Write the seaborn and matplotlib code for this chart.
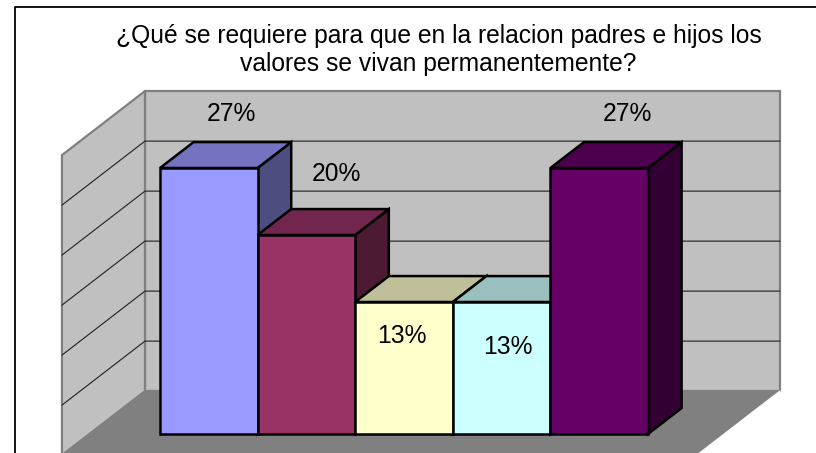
import matplotlib
matplotlib.use("Agg")
import matplotlib.pyplot as plt
from matplotlib.colors import to_rgb
from matplotlib.lines import Line2D
from matplotlib.patches import Polygon
import pandas as pd
import seaborn as sns

# data
categories = ["Opción 1", "Opción 2", "Opción 3", "Opción 4", "Opción 5"]
values = [26.6, 19.9, 13.2, 13.2, 26.6]
bar_colors = ["#9999FF", "#993366", "#FFFFCC", "#CCFFFF", "#660066"]
value_ticks = [0, 5, 10, 15, 20, 25, 30]
title_lines = "¿Qué se requiere para que en la relacion padres e hijos los\nvalores se vivan permanentemente?"

# layout (pixels of the 816x453 canvas)
W, H = 816, 453
CAT_PX, VAL_PX = 97.6, 10.0
CAT0_PX, VAL0_PX = 208.8, 434.0
DEPTH_X_PX, DEPTH_Y_PX = 83.0, 64.0
BAR_PLANE, BAR_DEPTH = 0.33, 0.405
WALL_L, WALL_R = -1.224, 5.282
LABEL_DX_PX = [23, 30, -2, 6, 28]
LABEL_DY_PX = [54, 61, -34, -45, 54]
EDGE_LW = 1.8

sns.set_theme(style="white", rc={"font.family": ["Liberation Sans", "DejaVu Sans"]})
fig = plt.figure(figsize=(W / 100, H / 100), dpi=100, facecolor="white")
ax = fig.add_axes([0, 0, 1, 1])

df = pd.DataFrame({"cat": categories, "val": values})
sns.barplot(data=df, x="cat", y="val", hue="cat", palette=bar_colors, width=1.0,
            saturation=1, legend=False, edgecolor="black", linewidth=EDGE_LW,
            zorder=3, ax=ax)
ax.set_xlim(-CAT0_PX / CAT_PX, (W - CAT0_PX) / CAT_PX)
ax.set_ylim((VAL0_PX - H) / VAL_PX, VAL0_PX / VAL_PX)
ax.axis("off")


def proj(cat, val, z):
    """Oblique projection: z = 0 front of floor, z = 1 back wall."""
    return (cat + (z - BAR_PLANE) * DEPTH_X_PX / CAT_PX,
            val + (z - BAR_PLANE) * DEPTH_Y_PX / VAL_PX)


top = value_ticks[-1]
floor = [proj(WALL_L, 0, 0), proj(WALL_L, 0, 1), proj(WALL_R, 0, 1), proj(WALL_R, 0, 0)]
back = [proj(WALL_L, 0, 1), proj(WALL_L, top, 1), proj(WALL_R, top, 1), proj(WALL_R, 0, 1)]
left = [proj(WALL_L, 0, 0), proj(WALL_L, top, 0), proj(WALL_L, top, 1), proj(WALL_L, 0, 1)]
ax.add_patch(Polygon(floor, facecolor="#808080", edgecolor="none", zorder=1))
ax.add_patch(Polygon(back, facecolor="#C0C0C0", edgecolor="#808080", lw=1.6, zorder=1.2))
ax.add_patch(Polygon(left, facecolor="#C0C0C0", edgecolor="#808080", lw=1.6, zorder=1.2))
edge = [proj(WALL_R, 0, 1), proj(WALL_R, 0, 0)]
ax.plot(*zip(*edge), color="white", lw=1.0, zorder=1.3)

for v in value_ticks[1:-1]:
    ax.plot(*zip(proj(WALL_L, v, 0), proj(WALL_L, v, 1), proj(WALL_R, v, 1)),
            color="#202020", lw=0.8, zorder=1.5)

# 3D faces of each bar, built from the bars seaborn drew
z0, z1 = BAR_PLANE, BAR_PLANE + BAR_DEPTH
for i, (bar, color) in enumerate(zip(ax.patches, bar_colors)):
    c0 = bar.get_x()
    c1 = c0 + bar.get_width()
    h = bar.get_height()
    rgb = to_rgb(color)
    bar.set_zorder(2 + i + 0.5)
    bar.set_joinstyle("miter")
    ax.add_patch(Polygon([proj(c1, 0, z0), proj(c1, h, z0), proj(c1, h, z1), proj(c1, 0, z1)],
                         facecolor=[x * 0.5 for x in rgb], edgecolor="black", lw=EDGE_LW, zorder=2 + i))
    ax.add_patch(Polygon([proj(c0, h, z0), proj(c0, h, z1), proj(c1, h, z1), proj(c1, h, z0)],
                         facecolor=[x * 0.75 for x in rgb], edgecolor="black", lw=EDGE_LW, zorder=2 + i + 0.2))

for i, (bar, v) in enumerate(zip(ax.patches, values)):
    ax.text(bar.get_x() + bar.get_width() / 2 + LABEL_DX_PX[i] / CAT_PX,
            v + LABEL_DY_PX[i] / VAL_PX, f"{round(v)}%",
            ha="center", va="center", fontsize=17.7, color="black", zorder=20)

fig.text(438.5 / W, 1 - 50 / H, title_lines, ha="center", va="center", fontsize=17.7,
         color="black", linespacing=1.2)

# chart frame, cut by the picture edges
fig.add_artist(Line2D([15 / W, 15 / W, 1], [0, 1 - 6.5 / H, 1 - 6.5 / H], color="black", lw=1.3))

fig.savefig("out.png", dpi=100)
